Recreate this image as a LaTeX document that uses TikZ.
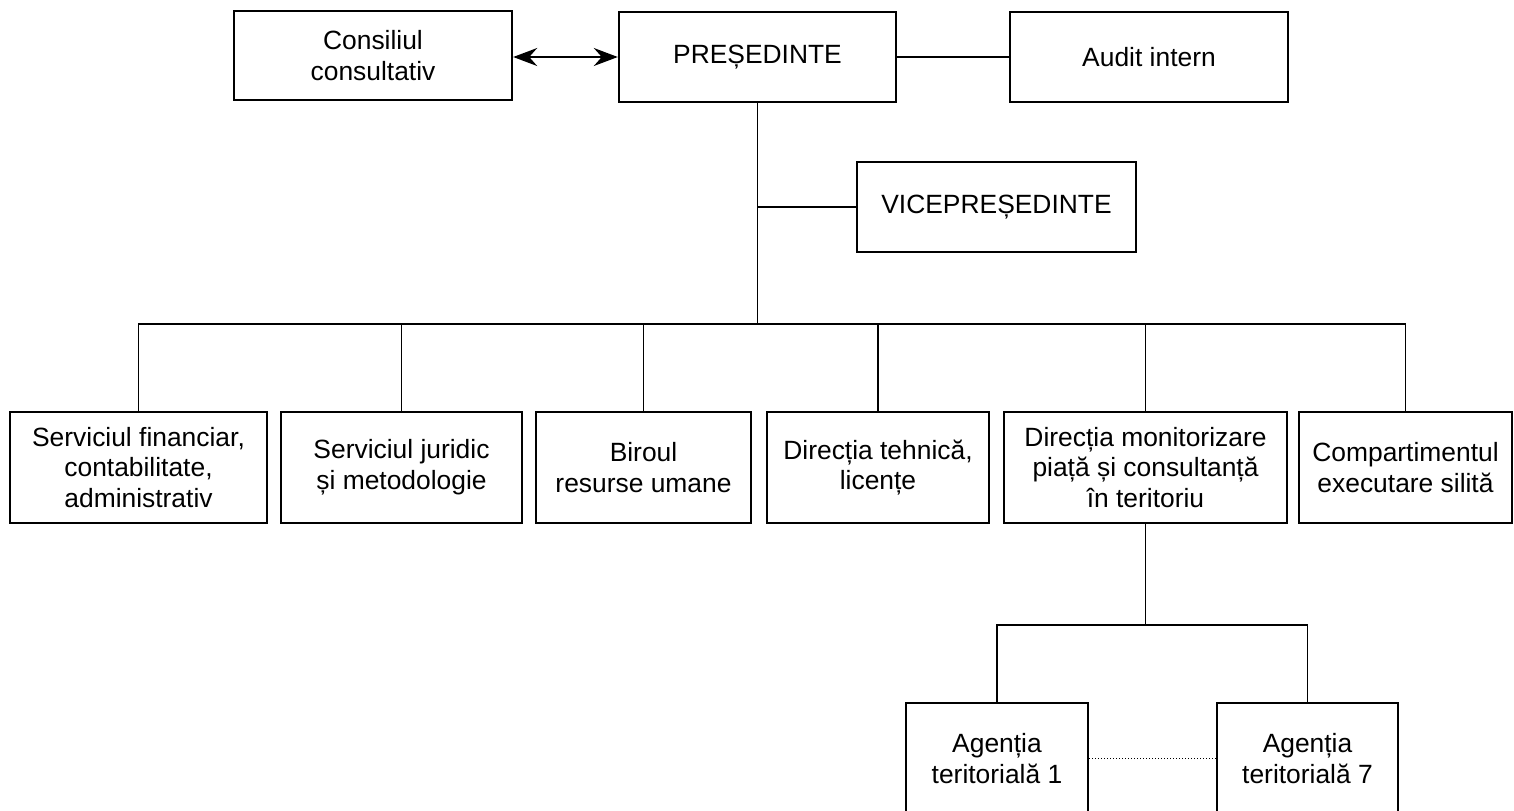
\documentclass[tikz,border=0pt]{standalone}
\usepackage{fontspec}
\setmainfont{Liberation Sans}
\usetikzlibrary{arrows.meta}

\tikzset{
  box/.style={draw,line width=1.2pt,inner sep=0pt,align=center,
    minimum height=45pt,font=\fontsize{13.2}{15.3}\selectfont},
  lowbox/.style={box,minimum height=55.5pt},
  link/.style={line width=0.8pt},
  headtip/.style={>={Stealth[length=12pt,width=9pt,inset=4pt]}}
}

\begin{document}
\begin{tikzpicture}[x=0.5pt,y=-0.5pt]
  \useasboundingbox (0,0) rectangle (1514,810);
  % conducere
  \node[box,minimum width=139pt,minimum height=44.5pt] (cons) at (373,55.5) {Consiliul\\consultativ};
  \node[box,minimum width=138.5pt] (pres) at (757.5,57) {PREȘEDINTE};
  \node[box,minimum width=139pt] (audit) at (1149,57) {Audit intern};
  \node[box,minimum width=139.5pt] (vice) at (996.5,207) {VICEPREȘEDINTE};
  % compartimente
  \node[lowbox,minimum width=128.5pt] (s1) at (138.5,467.5) {Serviciul financiar,\\contabilitate,\\administrativ};
  \node[lowbox,minimum width=120.5pt] (s2) at (401.5,467.5) {Serviciul juridic\\și metodologie};
  \node[lowbox,minimum width=107.5pt] (s3) at (643.5,467.5) {Biroul\\resurse umane};
  \node[lowbox,minimum width=111pt] (s4) at (878,467.5) {Direcția tehnică,\\licențe};
  \node[lowbox,minimum width=141.5pt] (s5) at (1145.5,467.5) {Direcția monitorizare\\piață și consultanță\\în teritoriu};
  \node[lowbox,minimum width=106.5pt] (s6) at (1405.5,467.5) {Compartimentul\\executare silită};
  \node[lowbox,minimum width=91pt] (a1) at (997,758.5) {Agenția\\teritorială 1};
  \node[lowbox,minimum width=90.5pt] (a7) at (1307.5,758.5) {Agenția\\teritorială 7};

  \draw[link,headtip,<->] (cons.east |- pres.west) -- (pres.west);
  \draw[link] (pres.east) -- (audit.west);
  \path (pres.south) ++(0,221) coordinate (bus);
  \draw[link] (pres.south) -- (bus);
  \draw[link] (vice.west) -- (vice.west -| pres.south);
  \foreach \n in {s1,s2,s3,s4,s5,s6}
    \draw[link] (\n.north) |- (bus);
  \path (s5.south) ++(0,101) coordinate (bus2);
  \draw[link] (s5.south) -- (bus2);
  \foreach \n in {a1,a7}
    \draw[link] (\n.north) |- (bus2);
  \draw[line width=0.4pt,dash pattern=on 0.5pt off 1pt] (a1.east) -- (a7.west);
\end{tikzpicture}
\end{document}
